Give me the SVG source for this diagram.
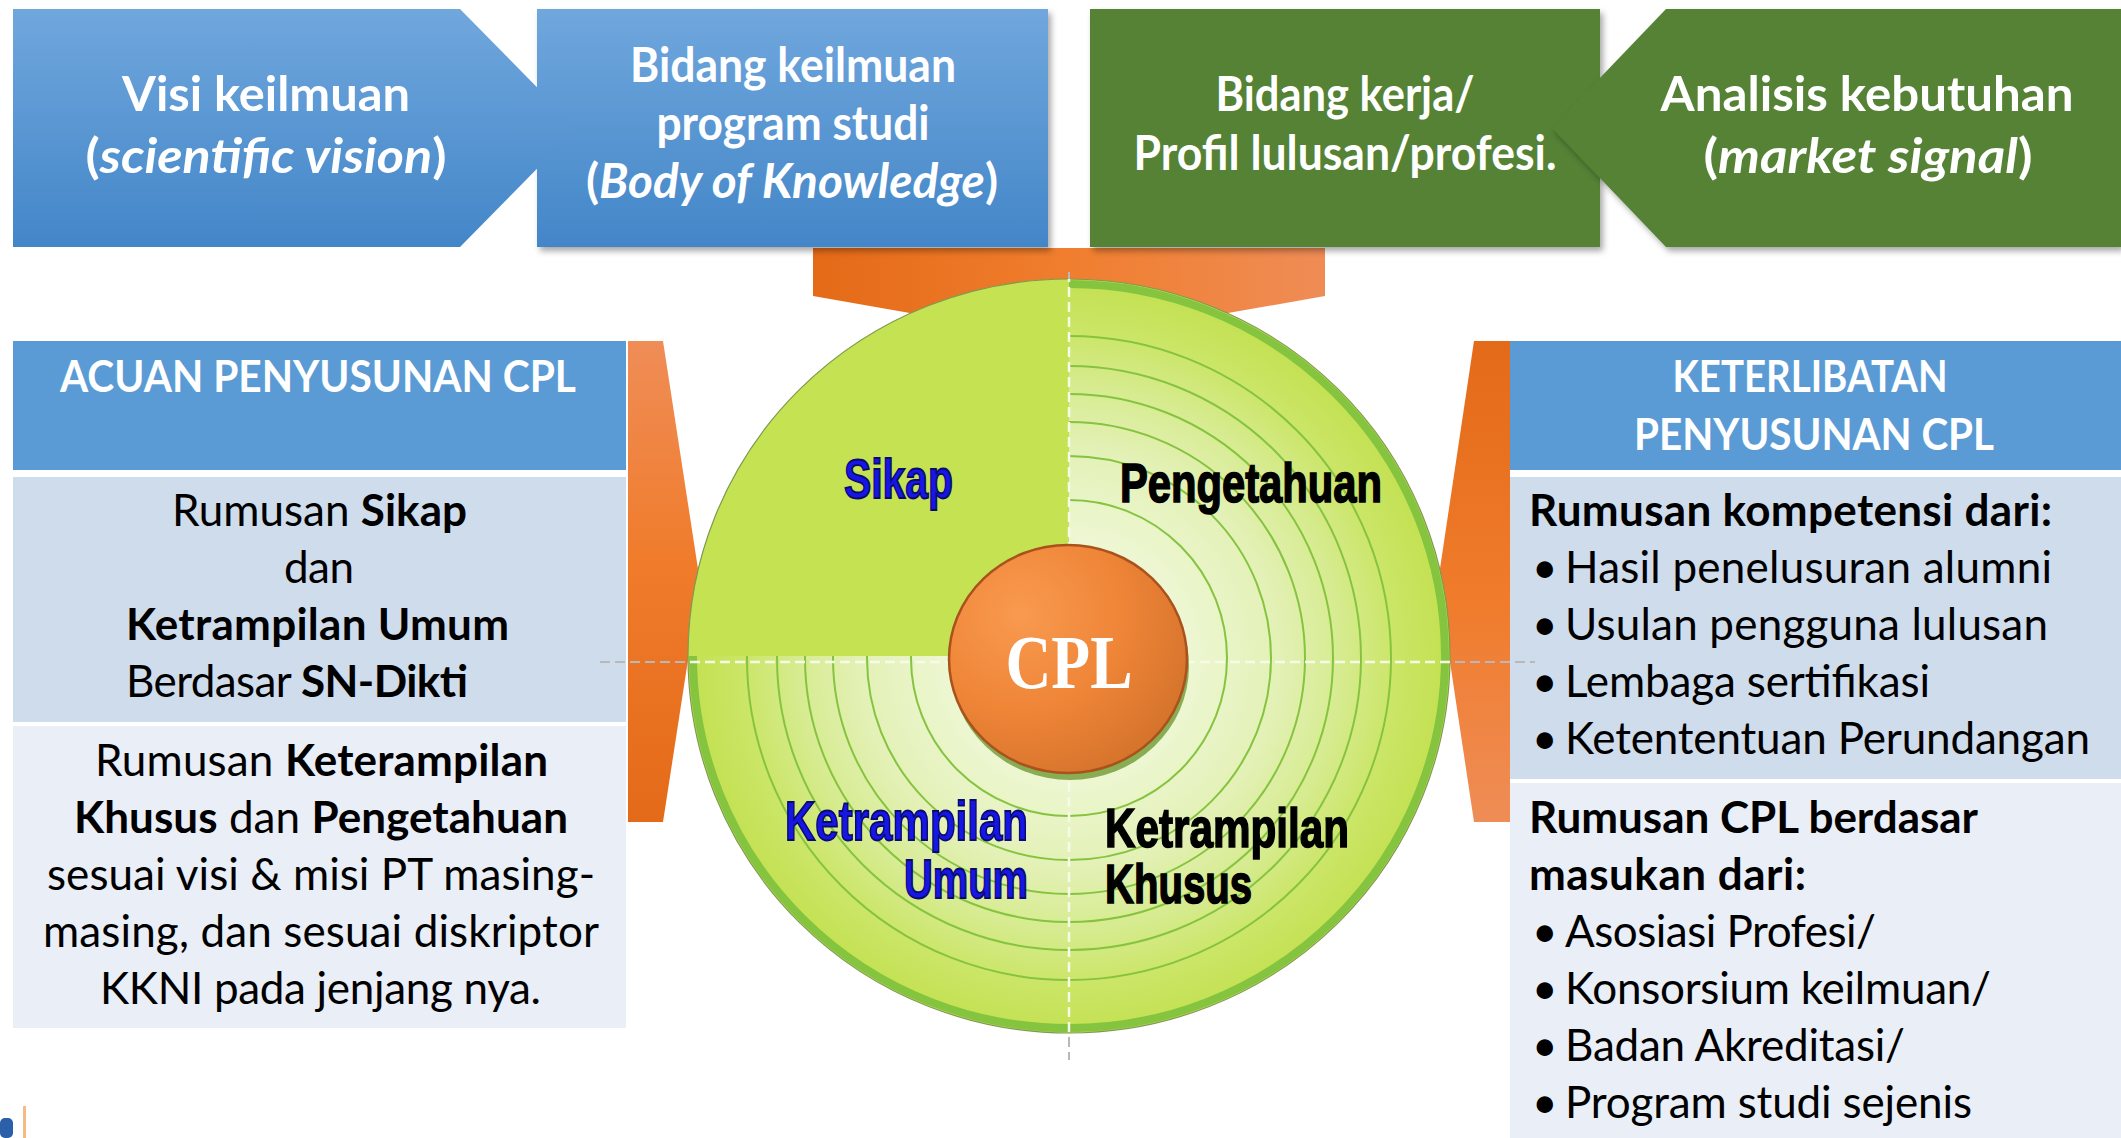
<svg xmlns="http://www.w3.org/2000/svg" width="2121" height="1138" viewBox="0 0 2121 1138">
<defs>
  <linearGradient id="gBlue" x1="0" y1="0" x2="0" y2="1">
    <stop offset="0" stop-color="#70A7DD"/>
    <stop offset="1" stop-color="#4386C8"/>
  </linearGradient>
  <linearGradient id="gOrangeH" x1="0" y1="0" x2="1" y2="0">
    <stop offset="0" stop-color="#E46A17"/>
    <stop offset="0.5" stop-color="#F07E2E"/>
    <stop offset="1" stop-color="#EF8C56"/>
  </linearGradient>
  <linearGradient id="gOrangeDown" x1="0" y1="0" x2="0" y2="1">
    <stop offset="0" stop-color="#EF8D57"/>
    <stop offset="0.45" stop-color="#F07C2C"/>
    <stop offset="1" stop-color="#E36A18"/>
  </linearGradient>
  <linearGradient id="gOrangeUp" x1="0" y1="0" x2="0" y2="1">
    <stop offset="0" stop-color="#E36A18"/>
    <stop offset="0.55" stop-color="#F07C2C"/>
    <stop offset="1" stop-color="#EF8D57"/>
  </linearGradient>
  <radialGradient id="gRings" cx="1069" cy="658" r="381" gradientUnits="userSpaceOnUse">
    <stop offset="0.3" stop-color="#EEF7D4"/>
    <stop offset="0.55" stop-color="#E3F1B6"/>
    <stop offset="0.72" stop-color="#D6EB8E"/>
    <stop offset="0.86" stop-color="#CBE566"/>
    <stop offset="1" stop-color="#C3E050"/>
  </radialGradient>
  <radialGradient id="gCpl" cx="0.3" cy="0.3" r="0.85">
    <stop offset="0" stop-color="#F89A50"/>
    <stop offset="0.5" stop-color="#EF8537"/>
    <stop offset="1" stop-color="#D0702A"/>
  </radialGradient>
  <filter id="shadow" x="-5%" y="-5%" width="115%" height="120%">
    <feDropShadow dx="3" dy="4" stdDeviation="3" flood-color="#000" flood-opacity="0.35"/>
  </filter>
  <clipPath id="wheelClip">
    <ellipse cx="1069" cy="656" rx="381" ry="377"/>
  </clipPath>
</defs>
<style>
  .top{font-family:Lato,"Liberation Sans",sans-serif;font-weight:700;fill:#fff;font-size:48px;text-anchor:middle}
  .hdr{font-family:Lato,"Liberation Sans",sans-serif;font-weight:700;fill:#fff;font-size:44px;text-anchor:middle}
  .body{font-family:Lato,"Liberation Sans",sans-serif;font-size:44px;fill:#000}
  .b{font-weight:700}
  .imp{font-family:"Liberation Sans",Arial,sans-serif;font-weight:700;font-size:55px}
  .blue{fill:#1616E6;stroke:#0A0A6A;stroke-width:1.8}
  .blk{fill:#000;stroke:#000;stroke-width:1.6}
  .ring{fill:none;stroke:#86C440;stroke-width:2}
</style>

<!-- connectors: orange funnels into the CPL wheel -->
<g id="connectors">
  <polygon points="813,248 1325,248 1325,296 1069,341 813,296" fill="url(#gOrangeH)"/>
  <polygon points="628,341 663,341 700,582 663,822 628,822" fill="url(#gOrangeDown)"/>
  <polygon points="1510,341 1474,341 1438,582 1474,822 1510,822" fill="url(#gOrangeUp)"/>
</g>

<!-- top row -->
<g id="node-bidang-keilmuan">
  <rect x="537" y="9" width="511" height="238" fill="url(#gBlue)" filter="url(#shadow)"/>
  <text class="top" x="793" y="82" textLength="326" lengthAdjust="spacingAndGlyphs">Bidang keilmuan</text>
  <text class="top" x="793" y="140" textLength="273" lengthAdjust="spacingAndGlyphs">program studi</text>
  <text class="top" x="792" y="198" textLength="412" lengthAdjust="spacingAndGlyphs">(<tspan font-style="italic">Body of Knowledge</tspan>)</text>
</g>
<g id="node-visi">
  <polygon points="13,9 460,9 577,128 460,247 13,247" fill="url(#gBlue)"/>
  <text class="top" x="266" y="111" textLength="288" lengthAdjust="spacingAndGlyphs">Visi keilmuan</text>
  <text class="top" x="266" y="173" textLength="361" lengthAdjust="spacingAndGlyphs">(<tspan font-style="italic">scientific vision</tspan>)</text>
</g>
<g id="node-bidang-kerja">
  <rect x="1090" y="9" width="510" height="238" fill="#548235" filter="url(#shadow)"/>
  <text class="top" x="1345" y="111" textLength="259" lengthAdjust="spacingAndGlyphs">Bidang kerja/</text>
  <text class="top" x="1345" y="170" textLength="423" lengthAdjust="spacingAndGlyphs">Profil lulusan/profesi.</text>
</g>
<g id="node-analisis">
  <polygon points="1666,9 2121,9 2121,247 1666,247 1552,128" fill="#548235" filter="url(#shadow)"/>
  <text class="top" x="1867" y="111" textLength="413" lengthAdjust="spacingAndGlyphs">Analisis kebutuhan</text>
  <text class="top" x="1868" y="173" textLength="329" lengthAdjust="spacingAndGlyphs">(<tspan font-style="italic">market signal</tspan>)</text>
</g>

<!-- left panel -->
<g id="node-acuan">
  <rect x="13" y="341" width="613" height="129" fill="#5B9BD5"/>
  <rect x="13" y="477" width="613" height="245" fill="#CFDCEC"/>
  <rect x="13" y="726" width="613" height="302" fill="#E9EEF7"/>
  <text class="hdr" x="318" y="392" textLength="516" lengthAdjust="spacingAndGlyphs">ACUAN PENYUSUNAN CPL</text>
  <text class="body" x="172" y="526" textLength="295">Rumusan <tspan class="b">Sikap</tspan></text>
  <text class="body" x="284" y="583" textLength="70">dan</text>
  <text class="body b" x="126" y="640" textLength="383">Ketrampilan Umum</text>
  <text class="body" x="126" y="697" textLength="342">Berdasar <tspan class="b">SN-Dikti</tspan></text>
  <text class="body" x="95" y="776" textLength="453">Rumusan <tspan class="b">Keterampilan</tspan></text>
  <text class="body" x="74" y="833" textLength="494"><tspan class="b">Khusus</tspan> dan <tspan class="b">Pengetahuan</tspan></text>
  <text class="body" x="47" y="890" textLength="548">sesuai visi &amp; misi PT masing-</text>
  <text class="body" x="43" y="947" textLength="556">masing, dan sesuai diskriptor</text>
  <text class="body" x="100" y="1004" textLength="441">KKNI pada jenjang nya.</text>
</g>

<!-- right panel -->
<g id="node-keterlibatan">
  <rect x="1510" y="341" width="611" height="129" fill="#5B9BD5"/>
  <rect x="1510" y="477" width="611" height="302" fill="#CFDCEC"/>
  <rect x="1510" y="783" width="611" height="355" fill="#E9EEF7"/>
  <text class="hdr" x="1810" y="392" textLength="275" lengthAdjust="spacingAndGlyphs">KETERLIBATAN</text>
  <text class="hdr" x="1814" y="450" textLength="360" lengthAdjust="spacingAndGlyphs">PENYUSUNAN CPL</text>
  <text class="body b" x="1529" y="526" textLength="523">Rumusan kompetensi dari:</text>
  <g class="body">
    <text x="1532" y="583">•</text><text x="1565" y="583" textLength="487">Hasil penelusuran alumni</text>
    <text x="1532" y="640">•</text><text x="1565" y="640" textLength="483">Usulan pengguna  lulusan</text>
    <text x="1532" y="697">•</text><text x="1565" y="697" textLength="365">Lembaga sertifikasi</text>
    <text x="1532" y="754">•</text><text x="1565" y="754" textLength="525">Ketententuan  Perundangan</text>
  </g>
  <text class="body b" x="1529" y="833" textLength="449">Rumusan CPL berdasar</text>
  <text class="body b" x="1529" y="890" textLength="277">masukan dari:</text>
  <g class="body">
    <text x="1532" y="947">•</text><text x="1565" y="947" textLength="311">Asosiasi Profesi/</text>
    <text x="1532" y="1004">•</text><text x="1565" y="1004" textLength="426">Konsorsium keilmuan/</text>
    <text x="1532" y="1061">•</text><text x="1565" y="1061" textLength="340">Badan Akreditasi/</text>
    <text x="1532" y="1118">•</text><text x="1565" y="1118" textLength="407">Program studi sejenis</text>
  </g>
</g>

<!-- CPL wheel -->
<g id="node-cpl-wheel">
  <ellipse cx="1069" cy="656" rx="381" ry="377" fill="url(#gRings)"/>
  <g clip-path="url(#wheelClip)">
    <circle class="ring" cx="1069" cy="658" r="158"/>
    <circle class="ring" cx="1069" cy="658" r="202"/>
    <circle class="ring" cx="1069" cy="658" r="236"/>
    <circle class="ring" cx="1069" cy="658" r="264"/>
    <circle class="ring" cx="1069" cy="658" r="292"/>
    <circle class="ring" cx="1069" cy="658" r="322" stroke-width="6" stroke="#80C242"/>
    <ellipse cx="1069" cy="656" rx="376" ry="372" fill="none" stroke="#84C43E" stroke-width="8"/>
  </g>
  <path d="M1069,656 L688,656 A381,377 0 0 1 1069,279 Z" fill="#C4E251"/>
  <ellipse cx="1069" cy="656" rx="381" ry="377" fill="none" stroke="#7E9A50" stroke-width="1.2"/>
  <!-- dashed guides -->
  <line x1="1069" y1="272" x2="1069" y2="1060" stroke="#B8B8B8" stroke-width="2" stroke-dasharray="10 5"/>
  <line x1="600" y1="662" x2="1535" y2="662" stroke="#B8B8B8" stroke-width="2" stroke-dasharray="10 5"/>
  <g clip-path="url(#wheelClip)">
    <line x1="1069" y1="272" x2="1069" y2="1060" stroke="#F6FBE8" stroke-width="2.5" stroke-dasharray="10 5"/>
    <line x1="600" y1="662" x2="1535" y2="662" stroke="#F6FBE8" stroke-width="2.5" stroke-dasharray="10 5"/>
  </g>
  <!-- CPL centre -->
  <ellipse cx="1070" cy="666" rx="119" ry="114" fill="#6E9A33" opacity="0.8"/>
  <ellipse cx="1068" cy="659" rx="119" ry="114" fill="url(#gCpl)" stroke="#A9521C" stroke-width="2.5"/>
  <text x="1069" y="688" text-anchor="middle" font-family="'Liberation Serif','DejaVu Serif',serif" font-weight="700" font-size="76" fill="#FFFFFF" textLength="127" lengthAdjust="spacingAndGlyphs">CPL</text>
  <!-- quadrant labels -->
  <text class="imp blue" x="844" y="498" textLength="109" lengthAdjust="spacingAndGlyphs">Sikap</text>
  <text class="imp blk" x="1120" y="502" textLength="262" lengthAdjust="spacingAndGlyphs">Pengetahuan</text>
  <text class="imp blue" x="785" y="840" textLength="243" lengthAdjust="spacingAndGlyphs">Ketrampilan</text>
  <text class="imp blue" x="904" y="898" textLength="124" lengthAdjust="spacingAndGlyphs">Umum</text>
  <text class="imp blk" x="1105" y="847" textLength="244" lengthAdjust="spacingAndGlyphs">Ketrampilan</text>
  <text class="imp blk" x="1105" y="903" textLength="147" lengthAdjust="spacingAndGlyphs">Khusus</text>
</g>

<!-- cut-off logo fragment, bottom-left -->
<g id="logo-fragment">
  <rect x="0" y="1118" width="13" height="20" rx="5" fill="#2B5FA8"/>
  <rect x="23" y="1106" width="3" height="32" fill="#F4A96A" opacity="0.8"/>
</g>
</svg>
